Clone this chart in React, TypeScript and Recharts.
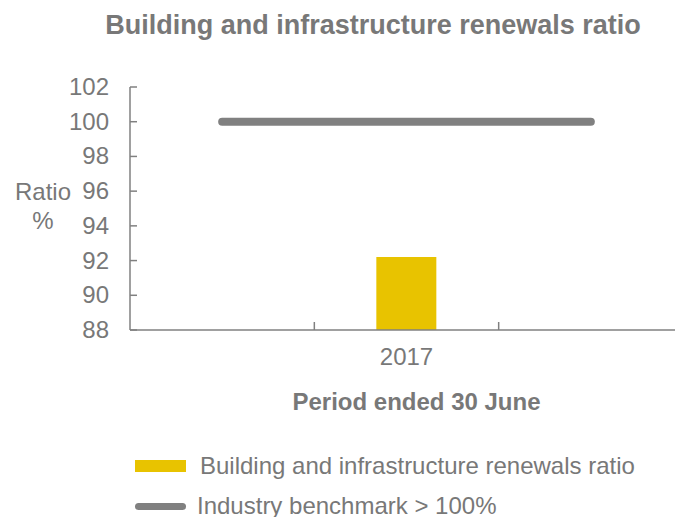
import { Bar, ComposedChart, Line, XAxis, YAxis } from "recharts";

const periods = ["", "2017", ""];
const renewalsRatio = [null, 92.2, null];
const benchmark = [100, 100, 100];
const yTicks = [88, 90, 92, 94, 96, 98, 100, 102];

const data = periods.map((period, i) => ({
  period,
  renewals: renewalsRatio[i],
  benchmark: benchmark[i],
}));

const TEXT = "#787878";
const AXIS = "#808080";
const YELLOW = "#e8c300";
const FONT = "'Liberation Sans', Arial, sans-serif";

// category label plus an inside tick mark on the boundary between categories
function PeriodTick(props: any) {
  const { x, y, payload, index } = props;
  const half = payload?.offset ?? 0;
  return (
    <g>
      {index > 0 && half > 0 && (
        <line x1={x - half} x2={x - half} y1={y - 8} y2={y} stroke={AXIS} strokeWidth={1.5} />
      )}
      <text x={x} y={y + 35} textAnchor="middle" fill={TEXT} fontSize={24} fontFamily={FONT}>
        {payload.value}
      </text>
    </g>
  );
}

// value label with an inside tick mark
function RatioTick(props: any) {
  const { x, y, payload } = props;
  return (
    <g>
      <line x1={x} x2={x + 7} y1={y} y2={y} stroke={AXIS} strokeWidth={1.5} />
      <text x={x - 21} y={y + 8} textAnchor="end" fill={TEXT} fontSize={24} fontFamily={FONT}>
        {payload.value}
      </text>
    </g>
  );
}

function RatioLabel() {
  return (
    <text textAnchor="middle" fill={TEXT} fontSize={24} fontFamily={FONT}>
      <tspan x={43} y={200}>Ratio</tspan>
      <tspan x={43} y={229}>%</tspan>
    </text>
  );
}

export default function App() {
  return (
    <div style={{ position: "absolute", left: 0, top: 0, width: 675, height: 517, overflow: "hidden", background: "#fff", fontFamily: FONT }}>
      <div style={{ position: "absolute", left: 0, top: 10, width: 746, textAlign: "center", fontWeight: "bold", fontSize: 27, color: TEXT }}>
        Building and infrastructure renewals ratio
      </div>
      <ComposedChart width={690} height={517} data={data} margin={{ top: 87, right: 7, left: 0, bottom: 107 }}>
        <XAxis
          dataKey="period"
          axisLine={{ stroke: AXIS, strokeWidth: 1.5 }}
          tickLine={false}
          tickSize={0}
          tickMargin={0}
          tick={<PeriodTick />}
          height={80}
          interval={0}
          label={{ value: "Period ended 30 June", position: "insideBottom", offset: 0, dx: 10, fill: TEXT, fontSize: 24, fontWeight: "bold", fontFamily: FONT }}
        />
        <YAxis
          domain={[88, 102]}
          ticks={yTicks}
          width={130}
          axisLine={{ stroke: AXIS, strokeWidth: 1.5 }}
          tickLine={false}
          tickSize={0}
          tickMargin={0}
          tick={<RatioTick />}
          label={<RatioLabel />}
        />
        <Bar dataKey="renewals" fill={YELLOW} barSize={60} isAnimationActive={false} />
        <Line
          dataKey="benchmark"
          stroke={AXIS}
          strokeWidth={8}
          strokeLinecap="round"
          dot={false}
          activeDot={false}
          isAnimationActive={false}
        />
      </ComposedChart>
      <div style={{ position: "absolute", left: 135, top: 452, fontSize: 24, color: TEXT, lineHeight: "28px" }}>
        <div style={{ display: "flex", alignItems: "center", height: 28 }}>
          <span style={{ display: "inline-block", width: 51, height: 12, background: YELLOW, marginRight: 14 }} />
          Building and infrastructure renewals ratio
        </div>
        <div style={{ display: "flex", alignItems: "center", height: 28, marginTop: 12 }}>
          <span style={{ display: "inline-block", width: 51, height: 7, borderRadius: 4, background: AXIS, marginRight: 11 }} />
          Industry benchmark &gt; 100%
        </div>
      </div>
    </div>
  );
}
